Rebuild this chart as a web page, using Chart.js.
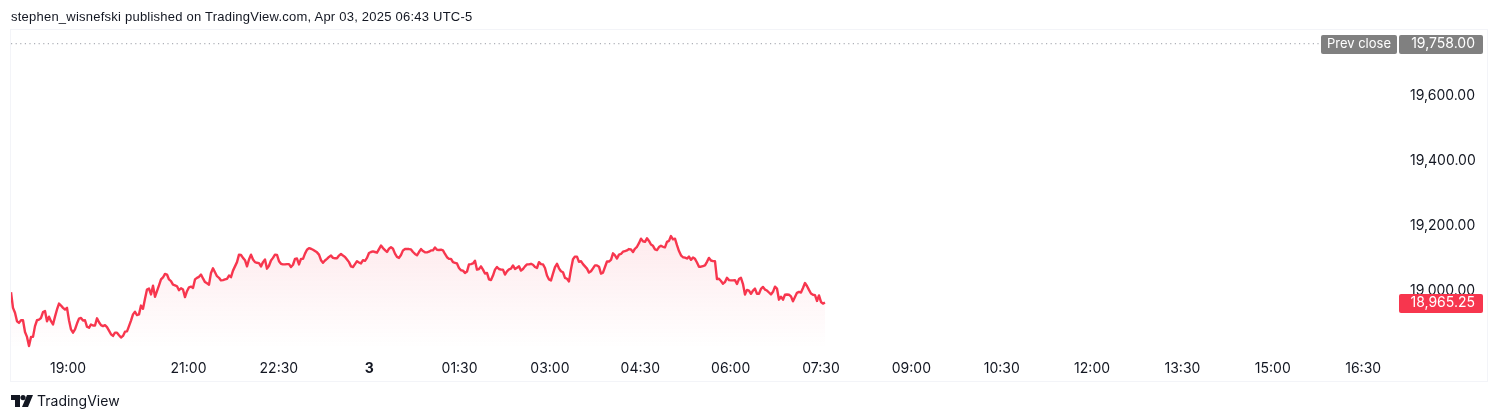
<!DOCTYPE html>
<html>
<head>
<meta charset="utf-8">
<title>TradingView chart</title>
<script src="https://cdn.jsdelivr.net/npm/chart.js@4"></script>
<style>
  html, body { margin: 0; padding: 0; background: #fff; }
  #wrap { position: relative; width: 1500px; height: 420px; overflow: hidden; color: #131722; }
  #grafico { position: absolute; left: 0; top: 0; }
  #titulo { position: absolute; left: 11px; top: 9px; font: 13px/16px "Liberation Sans", sans-serif; letter-spacing: 0.23px; white-space: nowrap; }
  #marca { position: absolute; left: 37px; top: 392px; font: 14px/18px "Inter", sans-serif; white-space: nowrap; }
  #logo { position: absolute; left: 11px; top: 395px; }
</style>
</head>
<body>
<div id="wrap">
  <canvas id="grafico" width="1500" height="420"></canvas>
  <div id="titulo">stephen_wisnefski published on TradingView.com, Apr 03, 2025 06:43 UTC-5</div>
  <svg id="logo" width="22" height="12" viewBox="0 0 22 12">
    <path d="M0 0H9V12H4V5H0Z" fill="#131722"/>
    <circle cx="12" cy="2.6" r="2.6" fill="#131722"/>
    <path d="M16 0H22L17 12H11Z" fill="#131722"/>
  </svg>
  <div id="marca">TradingView</div>
</div>
<script>
// minutos depois das 18:00
const tickMinutes = [60, 180, 270, 360, 450, 540, 630, 720, 810, 900, 990, 1080, 1170, 1260, 1350];
const tickLabels = ["19:00", "21:00", "22:30", "3", "01:30", "03:00", "04:30", "06:00", "07:30", "09:00", "10:30", "12:00", "13:30", "15:00", "16:30"];
const priceTicks = [19000, 19200, 19400, 19600];
const prevClose = 19758;
const lastPrice = 18965.25;
const startMinute = 3.2;
const stepMinutes = 1.992;

const prices = [
  18997, 18949, 18934, 18908, 18903, 18911, 18911, 18875, 18860, 18832, 18860, 18860, 18893, 18911, 18913, 18918, 18936,
  18939, 18908, 18922, 18908, 18898, 18922, 18944, 18962, 18956, 18949, 18944, 18949, 18911, 18883, 18873, 18883, 18901,
  18916, 18918, 18910, 18911, 18891, 18888, 18898, 18895, 18895, 18917, 18905, 18896, 18893, 18896, 18890, 18879, 18868,
  18863, 18873, 18873, 18865, 18858, 18863, 18876, 18877, 18893, 18910, 18929, 18937, 18927, 18929, 18956, 18946, 18977, 19005,
  19008, 18990, 19017, 18983, 19000, 19018, 19036, 19042, 19053, 19051, 19036, 19031, 19020, 19018, 19015, 19003, 19009,
  19005, 18982, 19000, 19012, 19014, 19010, 19036, 19041, 19044, 19051, 19039, 19028, 19024, 19020, 19056, 19070, 19058,
  19046, 19041, 19033, 19034, 19036, 19038, 19048, 19043, 19063, 19076, 19089, 19112, 19111, 19102, 19095, 19076, 19097,
  19112, 19097, 19089, 19087, 19086, 19076, 19089, 19097, 19069, 19078, 19094, 19102, 19112, 19111, 19092, 19084, 19082, 19082, 19083,
  19083, 19074, 19081, 19099, 19100, 19082, 19099, 19099, 19115, 19127, 19132, 19130, 19127, 19123, 19119, 19112, 19095,
  19087, 19094, 19099, 19105, 19109, 19102, 19101, 19101, 19109, 19114, 19109, 19105, 19097, 19089, 19076, 19074, 19083,
  19092, 19088, 19085, 19095, 19093, 19102, 19117, 19120, 19122, 19120, 19118, 19129, 19140, 19132, 19126, 19120, 19130,
  19135, 19130, 19115, 19105, 19102, 19111, 19125, 19129, 19129, 19129, 19128, 19120, 19114, 19110, 19120, 19129, 19123, 19119, 19119,
  19121, 19125, 19125, 19134, 19127, 19126, 19127, 19125, 19114, 19104, 19099, 19099, 19089, 19087, 19085, 19071, 19064,
  19063, 19056, 19060, 19082, 19083, 19085, 19093, 19066, 19068, 19076, 19066, 19054, 19056, 19036, 19034, 19048, 19066,
  19074, 19068, 19066, 19066, 19051, 19061, 19067, 19069, 19079, 19068, 19072, 19076, 19063, 19068, 19076, 19082, 19082,
  19084, 19081, 19074, 19071, 19089, 19083, 19082, 19071, 19048, 19036, 19033, 19054, 19074, 19084, 19070, 19061, 19058, 19041, 19038,
  19030, 19067, 19098, 19106, 19106, 19090, 19092, 19083, 19076, 19069, 19057, 19061, 19070, 19079, 19079, 19075, 19054,
  19057, 19074, 19091, 19091, 19096, 19116, 19110, 19100, 19112, 19114, 19121, 19123, 19125, 19129, 19128, 19120, 19130,
  19136, 19147, 19161, 19153, 19151, 19162, 19154, 19143, 19139, 19128, 19126, 19135, 19139, 19136, 19134, 19151, 19154,
  19169, 19159, 19161, 19141, 19123, 19110, 19104, 19103, 19100, 19106, 19096, 19103, 19099, 19088, 19075, 19075, 19077, 19079, 19090,
  19102, 19094, 19092, 19092, 19037, 19038, 19031, 19023, 19028, 19041, 19034, 19033, 19033, 19034, 19022, 19037, 19041,
  19022, 18990, 19004, 19002, 18992, 19002, 19008, 18992, 18992, 19007, 19013, 19005, 19002, 18996, 18990, 18998, 19014,
  19008, 18974, 18983, 18974, 18989, 18990, 18989, 18984, 18969, 18982, 18995, 18998, 18996, 19010, 19025, 19016, 19004,
  18993, 18989, 18988, 18970, 18987, 18967, 18962, 18965.25
];

const RED = "#f7364e";
const GREY = "#808080";
const TEXT = "#131722";
const FONT = "Inter, sans-serif";

const fmtPreco = (v) => v.toLocaleString("en-US", { minimumFractionDigits: 2, maximumFractionDigits: 2 });

const lineData = prices.map((p, i) => ({ x: startMinute + i * stepMinutes, y: p }));

// moldura e etiquetas de preço
const tagsPlugin = {
  id: "tags",
  beforeDraw(chart) {
    const c = chart.ctx;
    c.save();
    c.strokeStyle = "#f3f4f8";
    c.lineWidth = 1;
    c.strokeRect(10.5, 29.5, 1477, 352);
    c.restore();
  },
  afterDraw(chart) {
    const c = chart.ctx;
    const yScale = chart.scales.y;
    const tag = (x, w, price, text, color, size, margin) => {
      const y = yScale.getPixelForValue(price);
      c.fillStyle = color;
      c.beginPath();
      c.roundRect(x, Math.round(y) - 9, w, 19, 2);
      c.fill();
      c.font = size + "px " + FONT;
      c.fillStyle = "#fff";
      c.fillText(text, x + w - margin, y + 0.5);
    };
    c.save();
    c.textAlign = "right";
    c.textBaseline = "middle";
    tag(1321, 76, prevClose, "Prev close", GREY, 13, 6);
    tag(1399, 84, prevClose, fmtPreco(prevClose), GREY, 14, 8);
    tag(1399, 84, lastPrice, fmtPreco(lastPrice), RED, 14, 8);
    c.restore();
  }
};

new Chart(document.getElementById("grafico"), {
  type: "line",
  plugins: [tagsPlugin],
  data: {
    datasets: [
      {
        data: lineData,
        borderColor: RED,
        borderWidth: 2.4,
        pointRadius: 0,
        tension: 0,
        borderJoinStyle: "round",
        fill: "start",
        backgroundColor: (ctx) => {
          const { chart } = ctx;
          if (!chart.chartArea) return "transparent";
          const topo = chart.scales.y.getPixelForValue(Math.max(...prices));
          const g = chart.ctx.createLinearGradient(0, topo, 0, chart.chartArea.bottom);
          g.addColorStop(0, "rgba(247, 54, 78, 0.1)");
          g.addColorStop(1, "rgba(247, 54, 78, 0)");
          return g;
        }
      },
      {
        data: [{ x: startMinute, y: prevClose }, { x: 1384, y: prevClose }],
        borderColor: "#9a9da6",
        borderWidth: 1,
        borderDash: [1.2, 3.4],
        pointRadius: 0,
        fill: false
      }
    ]
  },
  options: {
    responsive: false,
    animation: false,
    layout: { padding: { left: 11, top: 30, right: 12, bottom: 39 } },
    plugins: { legend: { display: false }, tooltip: { enabled: false } },
    scales: {
      x: {
        type: "linear",
        min: startMinute,
        max: 1384.7,
        grid: { display: false, drawTicks: false },
        border: { display: false },
        afterBuildTicks: (axis) => { axis.ticks = tickMinutes.map((v) => ({ value: v })); },
        afterFit: (axis) => { axis.height = 33; },
        ticks: {
          autoSkip: false,
          maxRotation: 0,
          padding: 12,
          color: TEXT,
          font: (ctx) => ({ family: FONT, size: 14, weight: ctx.index === 3 ? "bold" : "normal" }),
          callback: (val, i) => tickLabels[i]
        }
      },
      y: {
        position: "right",
        min: 18826,
        max: 19800,
        grid: { display: false, drawTicks: false },
        border: { display: false },
        afterBuildTicks: (axis) => { axis.ticks = priceTicks.map((v) => ({ value: v })); },
        afterFit: (axis) => { axis.width = 90; },
        ticks: {
          autoSkip: false,
          padding: 12,
          color: TEXT,
          font: { family: FONT, size: 14 },
          callback: (val) => fmtPreco(val)
        }
      }
    }
  }
});
</script>
</body>
</html>
